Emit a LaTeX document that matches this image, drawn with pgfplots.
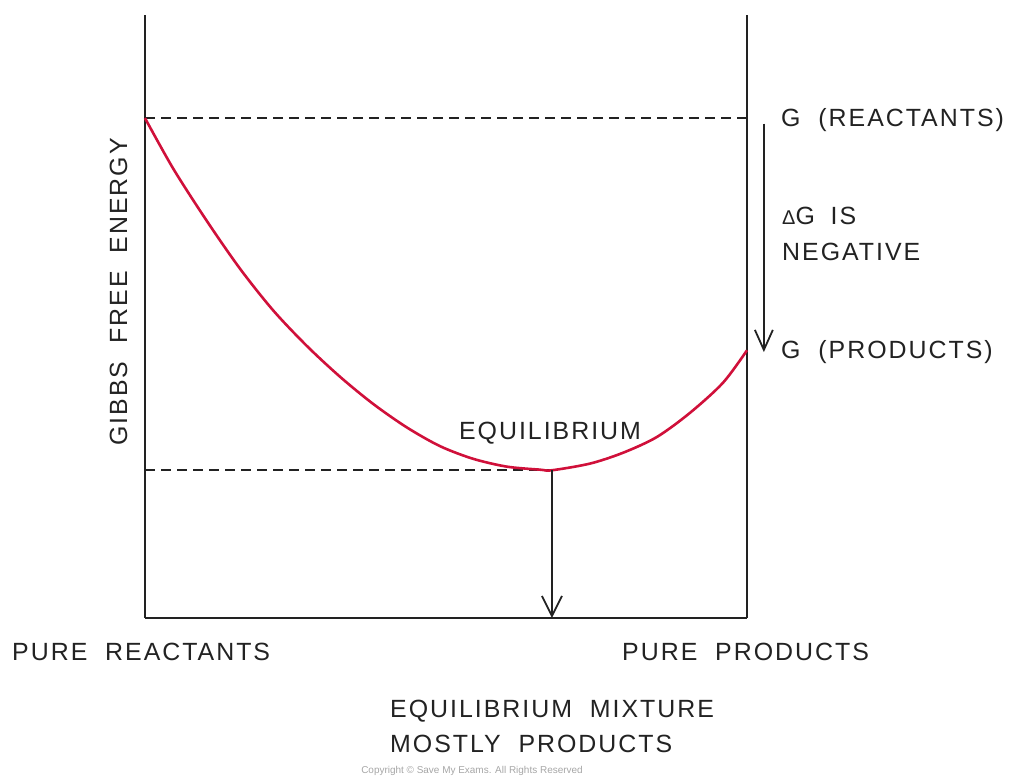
\documentclass[border=0pt]{standalone}
\usepackage{pgfplots}
\pgfplotsset{compat=1.18}
\usepackage{fontspec}
\setmainfont{Liberation Sans}[LetterSpace=8,WordSpace=2]
\newfontfamily\plainfont{Liberation Sans}
\usetikzlibrary{arrows.meta}
\definecolor{curvered}{HTML}{D0103A}
\definecolor{ink}{HTML}{222222}
\begin{document}
\begin{tikzpicture}[x=1bp,y=1bp]
\path[use as bounding box] (0,0) rectangle (1014,777);
\begin{axis}[
  at={(145bp,159bp)}, anchor=south west,
  width=602bp, height=603bp, scale only axis,
  xmin=0, xmax=1, ymin=0, ymax=1,
  axis x line*=bottom, axis y line*=box,
  axis line style={ink, line width=2bp},
  xtick=\empty, ytick=\empty,
  clip=false,
]
\addplot[ink, line width=2.2bp, dash pattern=on 10bp off 6bp] coordinates {(0,0.829) (1,0.829)};
\addplot[ink, line width=2.2bp, dash pattern=on 10bp off 6bp] coordinates {(0,0.245) (0.676,0.245)};
\addplot[curvered, line width=2.6bp, smooth] coordinates {
(0,0.829) (0.047,0.745) (0.103,0.658) (0.158,0.579) (0.213,0.510)
(0.269,0.451) (0.324,0.400) (0.379,0.355) (0.435,0.316) (0.490,0.285)
(0.545,0.264) (0.601,0.251) (0.656,0.246) (0.676,0.245) (0.739,0.256)
(0.794,0.274) (0.850,0.300) (0.905,0.340) (0.960,0.390) (1.0,0.444)};
\draw[ink, line width=1.8bp, -{Straight Barb[length=20bp,width=20bp,line width=1.8bp]}] (axis cs:0.676,0.245) -- (axis cs:0.676,0.0);
\draw[ink, line width=1.8bp, -{Straight Barb[length=20bp,width=18bp,line width=1.8bp]}] (axis cs:1.028,0.82) -- (axis cs:1.028,0.441);
\end{axis}
\begin{scope}[every node/.style={inner sep=0pt, text=ink, font=\fontsize{25}{29}\selectfont}]
\node[anchor=base west] at (781,650) {G (REACTANTS)};
\node[anchor=base west] at (782,552) {{\fontsize{20}{20}\selectfont Δ}G\hspace{-2bp} IS};
\node[anchor=base west] at (782,516) {NEGATIVE};
\node[anchor=base west] at (781,418) {G (PRODUCTS)};
\node[anchor=base] at (550,337) {EQUILIBRIUM};
\node[anchor=base west] at (12,116) {PURE REACTANTS};
\node[anchor=base west] at (622,116) {PURE PRODUCTS};
\node[anchor=base west] at (390,59) {EQUILIBRIUM MIXTURE};
\node[anchor=base west] at (390,24) {MOSTLY PRODUCTS};
\node[anchor=base, rotate=90] at (127,485) {GIBBS FREE ENERGY};
\node[anchor=base, text=gray!70, font=\plainfont\fontsize{10}{10}\selectfont] at (472,3) {Copyright © Save My Exams. All Rights Reserved};
\end{scope}
\end{tikzpicture}
\end{document}
